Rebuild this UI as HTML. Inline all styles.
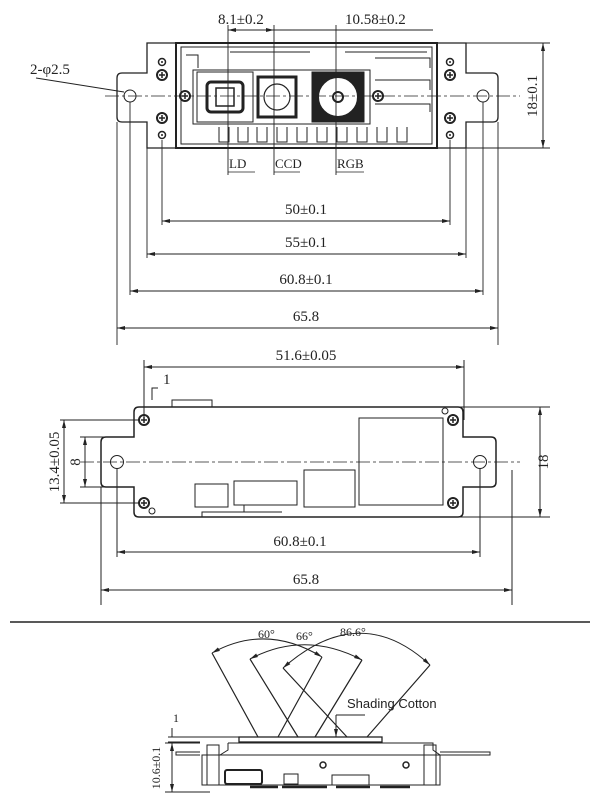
<!DOCTYPE html>
<html><head><meta charset="utf-8"><style>
html,body{margin:0;padding:0;background:#fff;}
svg{display:block;}
text{font-family:"Liberation Serif","Noto Serif CJK SC",serif;fill:#222;}
</style></head><body>
<svg width="600" height="800" viewBox="0 0 600 800" xmlns="http://www.w3.org/2000/svg">
<defs>
<marker id="a" markerWidth="8" markerHeight="6" refX="8" refY="3" orient="auto-start-reverse"><path d="M0,1 L8,3 L0,5z" fill="#222"/></marker>
<g id="scr"><circle r="5" fill="none" stroke="#222" stroke-width="2"/><path d="M-3,0H3M0,-3V3" stroke="#222" stroke-width="1.5"/></g>
<g id="sm"><circle r="3.5" fill="none" stroke="#222" stroke-width="1.5"/><circle r="1" fill="#222"/></g>
</defs>
<g stroke="#222" fill="none" stroke-width="1">
<!-- TOP VIEW -->
<path d="M147,43 H176 V148 H147 V122 H122 Q117,122 117,117 V78 Q117,73 122,73 H147 Z" stroke-width="1.3"/>
<path d="M437,43 H466 V73 H493 Q498,73 498,78 V117 Q498,122 493,122 H466 V148 H437 Z" stroke-width="1.3"/>
<rect x="176" y="43" width="261" height="105" stroke-width="2"/>
<rect x="181" y="47" width="251" height="97"/>
<circle cx="130" cy="96" r="6"/><circle cx="483" cy="96" r="6"/>
<rect x="193" y="70" width="177" height="54"/>
<rect x="197" y="72" width="56" height="50"/>
<rect x="207" y="82" width="36" height="30" stroke-width="3" rx="4"/>
<rect x="216" y="88" width="18" height="18" stroke-width="1.5"/>
<rect x="258" y="77" width="38" height="40" stroke-width="3"/>
<circle cx="277" cy="97" r="13" stroke-width="1.2"/>
<rect x="312" y="72" width="52" height="50" fill="#222"/>
<circle cx="338" cy="97" r="20" fill="#fff" stroke="none"/>
<circle cx="338" cy="97" r="20" stroke-width="2"/>
<circle cx="338" cy="97" r="5" stroke-width="2"/>
<path d="M186,55 h12 v13 M230,52 h80 M345,52 h82 M375,58 h55 v10 M375,80 h55 v10 M375,104 h55 v8"/>
<path d="M219,127 v15 h10 v-15 M238,127 v15 h10 v-15 M257,127 v15 h10 v-15 M277,127 v15 h10 v-15 M297,127 v15 h10 v-15 M317,127 v15 h10 v-15 M337,127 v15 h10 v-15 M357,127 v15 h10 v-15 M377,127 v15 h10 v-15 M397,127 v15 h10 v-15"/>
<path d="M105,96 H520" stroke-dasharray="14,3,3,3" stroke-width="0.8"/>
<path d="M228,25 V175 M274,25 V175 M336,25 V175" stroke-width="0.9"/>
<path d="M228,30 H274" marker-start="url(#a)" marker-end="url(#a)"/>
<path d="M274,30 H336" /><path d="M336,30 H433"/>
<path d="M228,172 H255 M274,172 H300 M336,172 H364" stroke-width="0.8"/>
<path d="M36,78 L124,92"/>
<path d="M440,43 H550 M440,148 H550"/>
<path d="M543,43 V148" marker-start="url(#a)" marker-end="url(#a)"/>
<path d="M162,140 V225 M450,140 V225 M147,148 V258 M466,148 V258 M130,102 V295 M483,102 V295 M117,122 V345 M498,122 V345" stroke-width="0.9"/>
<path d="M162,221 H450" marker-start="url(#a)" marker-end="url(#a)"/>
<path d="M147,254 H466" marker-start="url(#a)" marker-end="url(#a)"/>
<path d="M130,291 H483" marker-start="url(#a)" marker-end="url(#a)"/>
<path d="M117,328 H498" marker-start="url(#a)" marker-end="url(#a)"/>
<!-- MIDDLE VIEW -->
<path d="M144,360 V420 M464,360 V420"/>
<path d="M144,367 H464" marker-start="url(#a)" marker-end="url(#a)"/>
<path d="M158,388 h-6 v12"/>
<rect x="172" y="400" width="40" height="7"/>
<path d="M134,412 Q134,407 139,407 H458 Q463,407 463,412 V437 H491 Q496,437 496,442 V482 Q496,487 491,487 H463 V512 Q463,517 458,517 H139 Q134,517 134,512 V487 H106 Q101,487 101,482 V442 Q101,437 106,437 H134 Z" stroke-width="1.5"/>
<circle cx="117" cy="462" r="6.5"/><circle cx="480" cy="462" r="6.5"/>
<rect x="359" y="418" width="84" height="87"/>
<rect x="195" y="484" width="33" height="23"/>
<rect x="234" y="481" width="63" height="24"/>
<rect x="304" y="470" width="51" height="37"/>
<path d="M202,517 v-5 h80 M244,505 v7"/>
<circle cx="152" cy="511" r="3"/><circle cx="445" cy="411" r="3"/>
<path d="M80,462 H520" stroke-dasharray="14,3,3,3" stroke-width="0.8"/>
<path d="M60,420 H140 M80,437 H134 M80,487 H134 M60,503 H140"/>
<path d="M64,420 V503" marker-start="url(#a)" marker-end="url(#a)"/>
<path d="M85,437 V487" marker-start="url(#a)" marker-end="url(#a)"/>
<path d="M460,407 H550 M460,517 H550"/>
<path d="M540,407 V517" marker-start="url(#a)" marker-end="url(#a)"/>
<path d="M117,468 V557 M480,468 V557 M101,487 V605 M512,470 V605"/>
<path d="M117,552 H480" marker-start="url(#a)" marker-end="url(#a)"/>
<path d="M101,590 H512" marker-start="url(#a)" marker-end="url(#a)"/>
<path d="M10,622 H590" stroke-width="1.5"/>
<!-- BOTTOM VIEW -->
<path d="M212,653 L258,737 M250,659 L298,737 M283,668 L347,737 M322,657 L278,737 M362,660 L315,737 M430,665 L367,737" stroke-width="1.2"/>
<path d="M212,653 Q266,623 322,657" marker-start="url(#a)" marker-end="url(#a)"/>
<path d="M250,659 Q305,630 362,660" marker-start="url(#a)" marker-end="url(#a)"/>
<path d="M283,668 Q360,600 430,665" marker-start="url(#a)" marker-end="url(#a)"/>
<rect x="239" y="737" width="143" height="5" stroke-width="1.3"/>
<path d="M336,715 H365 M336,715 V737" marker-end="url(#a)"/>
<path d="M168,737 H239 M168,742 H200"/>
<path d="M172,728 v9 M172,752 v-10" />
<path d="M165,743 H200 M165,792 H210"/>
<path d="M172,743 V792" marker-start="url(#a)" marker-end="url(#a)"/>
<path d="M200,752 H176 V755 H200 M440,752 H490 V755 H440" />
<path d="M228,743 H433 V750 L440,755 M228,743 V750 L220,755"/>
<rect x="202" y="755" width="238" height="30"/>
<path d="M207,745 h12 v40 h-12z M424,745 h12 v40 h-12z"/>
<rect x="225" y="770" width="37" height="14" rx="2" stroke-width="2"/>
<rect x="284" y="774" width="14" height="10"/>
<rect x="332" y="775" width="37" height="10"/>
<circle cx="323" cy="765" r="3" stroke-width="1.5"/><circle cx="406" cy="765" r="3" stroke-width="1.5"/>
<path d="M250,787 h28 M282,787 h45 M336,787 h34 M380,787 h30" stroke-width="2.5"/>
</g>
<g fill="#222">
<use href="#sm" x="162" y="62"/><use href="#scr" x="162" y="75"/><use href="#scr" x="162" y="118"/><use href="#sm" x="162" y="135"/>
<use href="#sm" x="450" y="62"/><use href="#scr" x="450" y="75"/><use href="#scr" x="450" y="118"/><use href="#sm" x="450" y="135"/>
<use href="#scr" x="185" y="96"/><use href="#scr" x="378" y="96"/>
<use href="#scr" x="144" y="420"/><use href="#scr" x="144" y="503"/><use href="#scr" x="453" y="420"/><use href="#scr" x="453" y="503"/>
</g>
<g font-size="15">
<text x="218" y="24">8.1±0.2</text>
<text x="345" y="24">10.58±0.2</text>
<text x="30" y="74">2-φ2.5</text>
<text x="229" y="168" font-size="13">LD</text>
<text x="275" y="168" font-size="13">CCD</text>
<text x="337" y="168" font-size="13">RGB</text>
<text transform="translate(537,96) rotate(-90)" text-anchor="middle">18±0.1</text>
<text x="306" y="214" text-anchor="middle">50±0.1</text>
<text x="306" y="247" text-anchor="middle">55±0.1</text>
<text x="306" y="284" text-anchor="middle">60.8±0.1</text>
<text x="306" y="321" text-anchor="middle">65.8</text>
<text x="306" y="360" text-anchor="middle">51.6±0.05</text>
<text x="163" y="384">1</text>
<text transform="translate(59,462) rotate(-90)" text-anchor="middle">13.4±0.05</text>
<text transform="translate(80,462) rotate(-90)" text-anchor="middle">8</text>
<text transform="translate(548,462) rotate(-90)" text-anchor="middle">18</text>
<text x="300" y="546" text-anchor="middle">60.8±0.1</text>
<text x="306" y="584" text-anchor="middle">65.8</text>
<text x="258" y="638" font-size="12">60°</text>
<text x="296" y="640" font-size="12">66°</text>
<text x="340" y="636" font-size="12">86.6°</text>
<text x="347" y="708" font-size="13" style="font-family:'Liberation Sans',sans-serif">Shading Cotton</text>
<text x="173" y="722" font-size="12">1</text>
<text transform="translate(160,768) rotate(-90)" text-anchor="middle" font-size="12">10.6±0.1</text>
</g>
</svg>
</body></html>
